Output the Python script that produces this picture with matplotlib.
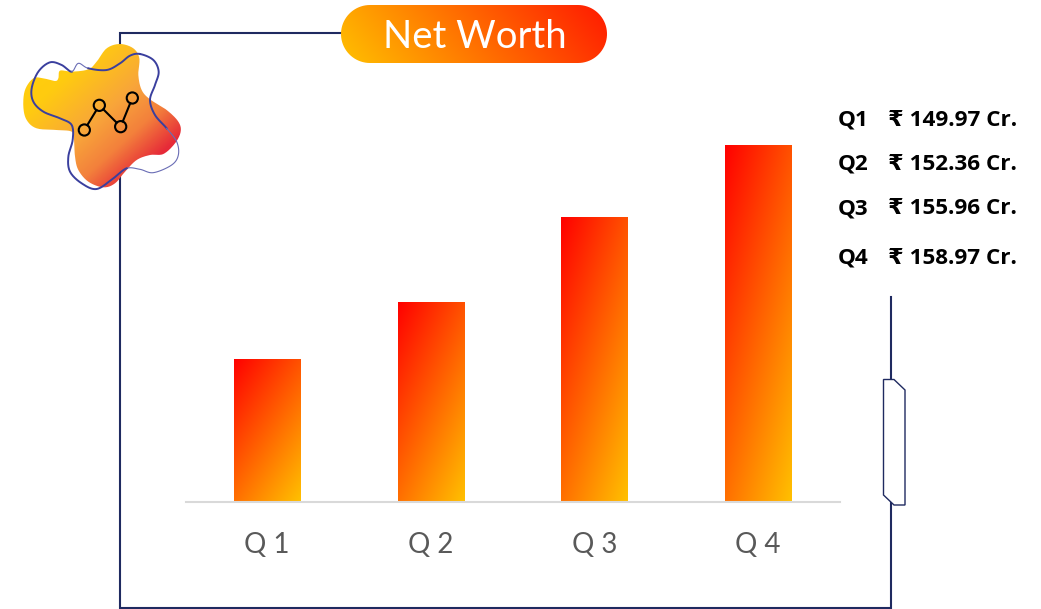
import numpy as np
import matplotlib
matplotlib.use('Agg')
import matplotlib.pyplot as plt
from matplotlib.colors import LinearSegmentedColormap
from matplotlib.patches import PathPatch, Polygon, Circle
from matplotlib.path import Path

quarters = ['Q 1', 'Q 2', 'Q 3', 'Q 4']
net_worth = [149.97, 152.36, 155.96, 158.97]
side_labels = ['Q1', 'Q2', 'Q3', 'Q4']
side_baseline = [125.5, 169.5, 214.5, 263.5]

# in pixels
blob_pts = [(360, 132), (400, 145), (418, 175), (415, 225), (425, 270), (450, 298), (500, 330),
            (535, 365), (542, 395), (525, 430), (490, 462), (450, 465), (410, 480), (375, 515),
            (345, 550), (310, 562), (265, 545), (235, 510), (225, 470), (222, 420), (215, 395),
            (170, 390), (110, 385), (80, 360), (70, 320), (75, 270), (100, 235), (130, 235),
            (165, 243), (175, 235), (180, 212), (215, 215), (265, 208), (290, 185), (320, 145)]
outline_pts = [(420, 162), (460, 180), (476, 215), (465, 255), (450, 300), (465, 345), (500, 385),
               (530, 425), (535, 465), (515, 495), (460, 518), (420, 508), (380, 505), (340, 535),
               (290, 567), (245, 550), (210, 515), (205, 470), (218, 420), (215, 375), (180, 355),
               (130, 335), (100, 305), (95, 265), (115, 215), (150, 187), (185, 195), (215, 215),
               (235, 190), (265, 205), (320, 210), (360, 190), (390, 167)]
icon_pts = [(253, 390), (298, 316), (362, 380), (397, 294)]

NAVY = '#1F2A60'
BAR_CMAP = LinearSegmentedColormap.from_list('bar', ['#FF0000', '#FFC000'])
PILL_CMAP = LinearSegmentedColormap.from_list('pill', ['#FFC000', '#FF1A00'])
BLOB_CMAP = LinearSegmentedColormap.from_list(
    'blob', [(0, '#FFD008'), (0.25, '#FFCB10'), (0.5, '#F8A53A'), (0.66, '#F3803C'), (0.82, '#E62A38'), (1, '#E62A38')])


def smooth_closed(pts, n=12):
    """Catmull-Rom through the traced points, returns a closed polyline."""
    pts = np.array(pts, dtype=float) / 3.0
    out = []
    m = len(pts)
    for i in range(m):
        p0, p1, p2, p3 = pts[i - 1], pts[i], pts[(i + 1) % m], pts[(i + 2) % m]
        for t in np.linspace(0, 1, n, endpoint=False):
            out.append(0.5 * (2 * p1 + (p2 - p0) * t + (2 * p0 - 5 * p1 + 4 * p2 - p3) * t ** 2
                              + (3 * p1 - p0 - 3 * p2 + p3) * t ** 3))
    return np.array(out)


def gradient_image(ax, extent, cmap, clip, zorder, wu=0.5, wv=0.5):
    """Linear gradient image clipped to a patch, wu/wv weigh left-right and top-bottom."""
    u, v = np.meshgrid(np.linspace(0, 1, 200), np.linspace(0, 1, 200))
    t = wu * u + wv * v
    t = (t - t.min()) / (t.max() - t.min())
    im = ax.imshow(t, extent=extent, origin='upper', cmap=cmap, vmin=0, vmax=1,
                   aspect='auto', zorder=zorder, interpolation='bilinear')
    im.set_clip_path(clip)


fig = plt.figure(figsize=(10.41, 6.09), dpi=100, facecolor='white')
W, H = 1041, 609

# chart axes: baseline at y=501, spans x 186..840
ax = fig.add_axes([185.5 / W, (H - 501.5) / H, 654 / W, 381 / H])
ax.set_facecolor('none')
x = np.arange(len(quarters))
bars = ax.bar(x, net_worth, width=0.405, color='none', zorder=2)
for b in bars:
    gradient_image(ax, (b.get_x(), b.get_x() + b.get_width(), 144, b.get_height()), BAR_CMAP, b, 2,
                   wu=0.42, wv=0.58)
ax.set_xlim(-0.5, 3.5)
ax.set_ylim(144, 160)
ax.set_yticks([])
ax.set_xticks(x)
ax.set_xticklabels(quarters, fontsize=20, color='#595959', family=['Lato', 'DejaVu Sans'])
ax.tick_params(axis='x', length=0, pad=22)
for s in ['top', 'left', 'right']:
    ax.spines[s].set_visible(False)
ax.spines['bottom'].set_color('#D9D9D9')
ax.spines['bottom'].set_linewidth(1.5)

# overlay in pixel coordinates for the frame and decorations
deco = fig.add_axes([0, 0, 1, 1], zorder=3)
deco.set_facecolor('none')
deco.axis('off')

lw = 1.5
deco.plot([342, 120, 120, 891, 891], [33, 33, 607.5, 607.5, 297], color=NAVY, lw=lw,
          solid_joinstyle='miter', zorder=1)

# side tab on the right line
deco.add_patch(Polygon([(883.5, 379.5), (894, 379.5), (905, 390), (905, 505), (894, 505), (883.5, 495)],
                       closed=True, facecolor='white', edgecolor=NAVY, lw=1.0, zorder=2))

# title pill, arcs at both ends
ang = np.linspace(-np.pi / 2, np.pi / 2, 40)
pill_xy = np.vstack([np.c_[578 + 29 * np.cos(ang), 34 + 29 * np.sin(ang)],
                     np.c_[370 - 29 * np.cos(ang[::-1]), 34 + 29 * np.sin(ang[::-1])]])
pill = Polygon(pill_xy, closed=True, facecolor='none', edgecolor='none', zorder=3)
deco.add_patch(pill)
gradient_image(deco, (341, 607, 63, 5), PILL_CMAP, pill, 3, wu=0.85, wv=-0.15)
deco.text(475, 37, 'Net Worth', color='white', fontsize=27.5, ha='center', va='center',
          family=['Lato', 'DejaVu Sans'], zorder=4)

# blob icon
blob_xy = smooth_closed(blob_pts)
blob = PathPatch(Path(np.vstack([blob_xy, blob_xy[:1]])), facecolor='none', edgecolor='none', zorder=4)
deco.add_patch(blob)
gradient_image(deco, (23, 181, 188, 44), BLOB_CMAP, blob, 4)

line_xy = smooth_closed(outline_pts)
line_xy = np.vstack([line_xy, line_xy[:1]])
n = 12
# the outline gets thin along the lower right and at the top left notch
deco.plot(line_xy[:6 * n + 1, 0], line_xy[:6 * n + 1, 1], color='#3A3F9E', lw=1.4, zorder=5)
deco.plot(line_xy[6 * n:12 * n + 1, 0], line_xy[6 * n:12 * n + 1, 1], color='#6A6DB5', lw=0.8, zorder=5)
deco.plot(line_xy[12 * n:27 * n + 1, 0], line_xy[12 * n:27 * n + 1, 1], color='#3A3F9E', lw=1.4, zorder=5)
deco.plot(line_xy[27 * n:29 * n + 1, 0], line_xy[27 * n:29 * n + 1, 1], color='#6A6DB5', lw=0.8, zorder=5)
deco.plot(line_xy[29 * n:, 0], line_xy[29 * n:, 1], color='#3A3F9E', lw=1.4, zorder=5)

icon = np.array(icon_pts, dtype=float) / 3.0
r = 5.6
for a, b in zip(icon[:-1], icon[1:]):
    d = (b - a) / np.hypot(*(b - a))
    deco.plot([a[0] + d[0] * r, b[0] - d[0] * r], [a[1] + d[1] * r, b[1] - d[1] * r],
              color='black', lw=1.5, zorder=6)
for c in icon:
    deco.add_patch(Circle(c, r, facecolor='none', edgecolor='black', lw=1.5, zorder=6))

# values listed at the right
for lab, val, y in zip(side_labels, net_worth, side_baseline):
    deco.text(838, y, lab, fontsize=16.2, fontweight='bold', color='black', va='baseline', ha='left',
              family=['Open Sans', 'DejaVu Sans'])
    deco.text(888, y, f'₹ {val:.2f} Cr.', fontsize=16.2, fontweight='bold', color='black', va='baseline',
              ha='left', family=['Open Sans', 'DejaVu Sans'])

deco.set_xlim(0, W)
deco.set_ylim(H, 0)

fig.savefig('out.png', dpi=100)
